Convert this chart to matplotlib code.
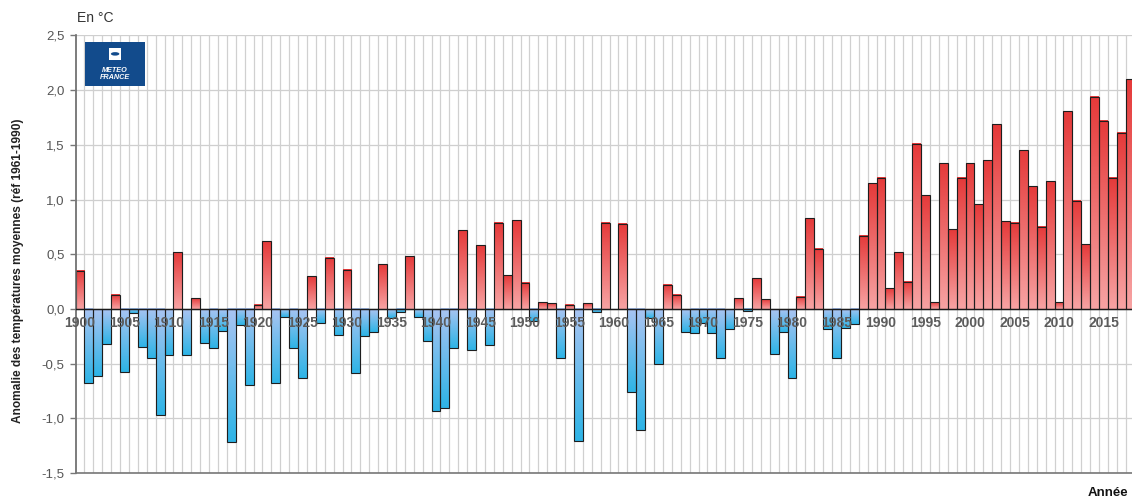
import numpy as np
import matplotlib
matplotlib.use("Agg")
import matplotlib.pyplot as plt
from matplotlib.colors import LinearSegmentedColormap
from matplotlib.patches import Rectangle, Circle

plt.rcParams["font.family"] = ["Liberation Sans", "DejaVu Sans"]

years = list(range(1900, 2019))
anomalies = [
    0.35, -0.68, -0.61, -0.32, 0.13, -0.58, -0.04, -0.35, -0.45, -0.97,   # 1900-1909
    -0.42, 0.52, -0.42, 0.10, -0.31, -0.36, -0.20, -1.22, -0.15, -0.70,   # 1910-1919
    0.04, 0.62, -0.68, -0.07, -0.36, -0.63, 0.30, -0.13, 0.47, -0.24,     # 1920-1929
    0.36, -0.59, -0.25, -0.21, 0.41, -0.08, -0.03, 0.48, -0.07, -0.29,    # 1930-1939
    -0.93, -0.91, -0.36, 0.72, -0.38, 0.58, -0.33, 0.79, 0.31, 0.81,      # 1940-1949
    0.24, -0.11, 0.06, 0.05, -0.45, 0.04, -1.21, 0.05, -0.03, 0.79,       # 1950-1959
    0.00, 0.78, -0.76, -1.11, -0.08, -0.50, 0.22, 0.13, -0.21, -0.22,     # 1960-1969
    -0.13, -0.22, -0.45, -0.18, 0.10, -0.02, 0.28, 0.09, -0.41, -0.21,    # 1970-1979
    -0.63, 0.11, 0.83, 0.55, -0.18, -0.45, -0.17, -0.14, 0.67, 1.15,      # 1980-1989
    1.20, 0.19, 0.52, 0.25, 1.51, 1.04, 0.06, 1.33, 0.73, 1.20,           # 1990-1999
    1.33, 0.96, 1.36, 1.69, 0.80, 0.79, 1.45, 1.12, 0.75, 1.17,           # 2000-2009
    0.06, 1.81, 0.99, 0.59, 1.94, 1.72, 1.20, 1.61, 2.10,                 # 2010-2018
]
year_ticks = list(range(1900, 2016, 5))
y_ticks = [-1.5, -1.0, -0.5, 0.0, 0.5, 1.0, 1.5, 2.0, 2.5]

warm_cmap = LinearSegmentedColormap.from_list("warm", ["#f7a3a3", "#e53a3a"])
cold_cmap = LinearSegmentedColormap.from_list("cold", ["#a9c4f2", "#2eb4e6"])

fig = plt.figure(figsize=(11.32, 4.99), dpi=100)
ax = fig.add_axes([75.5 / 1132, 1 - 473 / 499, 1 - 75.5 / 1132, (473 - 35.5) / 499])

# grid drawn by hand so it stays under the bars while labels stay on top
for y in y_ticks:
    ax.axhline(y, color="#cfcfcf", lw=0.9, zorder=0.3)
for yr in years:
    ax.axvline(yr + 0.5, color="#d0d0d0", lw=0.9, zorder=0.3)

bars = ax.bar(years, anomalies, width=1.0, facecolor="none",
              edgecolor="#1e1e1e", linewidth=0.8, zorder=2)
grad = np.linspace(0, 1, 64).reshape(-1, 1)
for rect, val in zip(bars, anomalies):
    if val == 0:
        continue
    x0 = rect.get_x()
    cmap = warm_cmap if val > 0 else cold_cmap
    ax.imshow(grad, cmap=cmap, extent=(x0, x0 + rect.get_width(), 0, val),
              origin="lower", aspect="auto", interpolation="bilinear", zorder=1)

ax.set_xlim(1899.5, 2018.2)
ax.set_ylim(-1.5, 2.5)

ax.spines["top"].set_visible(False)
ax.spines["right"].set_visible(False)
ax.spines["bottom"].set_position(("data", 0))
ax.spines["bottom"].set_color("#1a1a1a")
ax.spines["bottom"].set_linewidth(1.0)
ax.spines["bottom"].set_zorder(3)
ax.spines["left"].set_color("#666666")
ax.spines["left"].set_linewidth(1.2)
ax.axhline(-1.5, color="#777777", lw=1.2, zorder=3, clip_on=False)
ax.set_axisbelow(False)

ax.set_xticks(year_ticks)
ax.set_xticklabels([str(y) for y in year_ticks])
ax.tick_params(axis="x", length=0, pad=5, labelsize=10, labelcolor="#5c5c5c")
for lab in ax.get_xticklabels():
    lab.set_fontweight("bold")
    lab.set_zorder(5)

ax.set_yticks(y_ticks)
ax.set_yticklabels([f"{v:.1f}".replace(".", ",") for v in y_ticks])
ax.tick_params(axis="y", length=4, width=1, color="#777777", pad=4,
               labelsize=9.5, labelcolor="#555555")

# Météo-France logo block
ax.add_patch(Rectangle((0.009, 0.884), 0.057, 0.101, transform=ax.transAxes,
                       facecolor="#124b8c", edgecolor="none", zorder=6))
ax.add_patch(Rectangle((0.0315, 0.944), 0.012, 0.028, transform=ax.transAxes,
                       facecolor="white", edgecolor="none", zorder=7))
ax.add_patch(Circle((0.0375, 0.958), 0.004, transform=ax.transAxes,
                    facecolor="#124b8c", edgecolor="none", zorder=8))
ax.text(0.0375, 0.912, "METEO\nFRANCE", transform=ax.transAxes, ha="center",
        va="center", color="white", fontsize=5.2, fontweight="bold",
        style="italic", linespacing=0.95, zorder=8)

fig.text(77 / 1132, 1 - 18 / 499, "En °C", ha="left", va="center",
         fontsize=10, color="#333333")
fig.text(1128 / 1132, 1 - 493 / 499, "Année", ha="right", va="center",
         fontsize=9.5, fontweight="bold", color="#111111")
fig.text(18 / 1132, 1 - 271 / 499,
         "Anomalie des températures moyennes (réf 1961-1990)",
         rotation=90, ha="center", va="center", fontsize=8.6,
         fontweight="bold", color="#222222")

fig.savefig("out.png", dpi=100)
